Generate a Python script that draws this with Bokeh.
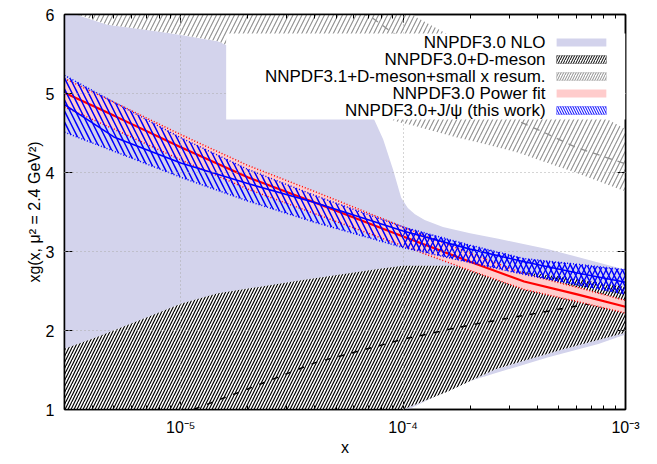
from bokeh.plotting import figure
from bokeh.models import (LogAxis, LinearAxis, Range1d, BoxAnnotation, Label,
                          FixedTicker, CustomJSTickFormatter)
from bokeh.embed import file_html
from bokeh.resources import INLINE

# ---------------- data ----------------
# NNPDF3.0 NLO band
nlo_x  = [3.0e-6, 3.44e-6, 4.69e-6, 7.1e-6, 1.0e-5, 1.47e-5, 2.22e-5, 3.36e-5, 5.1e-5, 6.6e-5,
          7.33e-5, 8.13e-5, 9.0e-5, 9.8e-5, 1.05e-4, 1.13e-4, 1.25e-4, 1.51e-4, 2.0e-4, 2.68e-4,
          4.5e-4, 7.55e-4, 1.0e-3]
nlo_hi = [6.05, 5.99, 5.87, 5.81, 5.74, 5.66, 5.45, 5.25, 5.05, 4.85,
          4.70, 4.42, 4.04, 3.68, 3.55, 3.47, 3.40, 3.31, 3.23, 3.16,
          3.03, 2.86, 2.77]
nlo_lo = [0.30, 0.32, 0.36, 0.42, 0.50, 0.57, 0.64, 0.72, 0.80, 0.86,
          0.89, 0.92, 0.95, 0.97, 1.00, 1.04, 1.10, 1.21, 1.36, 1.47,
          1.66, 1.83, 1.95]

# NNPDF3.0+D-meson band
dm_x   = [3.0e-6, 4.23e-6, 7.1e-6, 1.0e-5, 1.47e-5, 3.36e-5, 7.7e-5, 1.0e-4, 1.6e-4, 2.6e-4,
          5.2e-4, 1.0e-3]
dm_hi  = [1.77, 1.92, 2.17, 2.34, 2.47, 2.63, 2.78, 2.82, 2.82, 2.78, 2.68, 2.55]
dm_lo  = [0.30, 0.34, 0.45, 0.52, 0.60, 0.78, 0.88, 1.00, 1.23, 1.51, 1.76, 1.97]
dmc_x  = [1.0e-5, 2.0e-5, 4.0e-5, 1.0e-4, 2.0e-4, 4.0e-4, 1.0e-3]
dmc_y  = [0.94, 1.26, 1.59, 1.89, 2.07, 2.22, 2.42]

# NNPDF3.1+D-meson+small x resum. band
rs_x   = [3.0e-6, 3.44e-6, 4.69e-6, 9.7e-6, 1.47e-5, 3.36e-5, 5.65e-5, 7.33e-5, 8.55e-5,
          9.8e-5, 1.09e-4, 1.71e-4, 2.18e-4, 3.3e-4, 4.36e-4, 5.96e-4, 1.0e-3]
rs_hi  = [7.5, 7.4, 7.2, 6.9, 6.8, 6.5, 6.3, 6.2, 6.1, 6.05, 6.0, 5.70, 5.55, 5.27, 5.09, 4.89, 4.55]
rs_lo  = [6.1, 6.0, 5.87, 5.75, 5.66, 5.2, 4.9, 4.75, 4.68, 4.63, 4.6, 4.45, 4.38, 4.25, 4.13, 4.0, 3.76]
rs_c   = [7.2, 7.1, 6.9, 6.6, 6.5, 6.3, 6.1, 5.95, 5.81, 5.7, 5.6, 5.2, 5.0, 4.65, 4.5, 4.32, 4.11]

# common x grid of the two fits
fit_x  = [3.0e-6, 5.0e-6, 1.0e-5, 2.0e-5, 4.0e-5, 1.0e-4, 2.0e-4, 3.5e-4, 6.0e-4, 1.0e-3]
# NNPDF3.0 Power fit
pw_c   = [5.01, 4.72, 4.32, 3.94, 3.62, 3.19, 2.87, 2.62, 2.46, 2.30]
pw_hi  = [5.19, 4.89, 4.48, 4.09, 3.76, 3.31, 2.98, 2.72, 2.55, 2.38]
pw_lo  = [4.83, 4.55, 4.16, 3.79, 3.48, 3.07, 2.76, 2.52, 2.37, 2.22]
# NNPDF3.0+J/psi (this work)
jp_c   = [4.86, 4.45, 4.12, 3.86, 3.62, 3.26, 3.03, 2.87, 2.73, 2.61]
jp_hi  = [5.23, 4.89, 4.44, 4.04, 3.71, 3.31, 3.08, 2.91, 2.84, 2.77]
jp_lo  = [4.51, 4.27, 3.94, 3.64, 3.37, 3.05, 2.86, 2.71, 2.58, 2.46]

legend_labels = ["NNPDF3.0 NLO", "NNPDF3.0+D-meson", "NNPDF3.1+D-meson+small x resum.",
                 "NNPDF3.0 Power fit", "NNPDF3.0+J/\u03c8 (this work)"]
x_major = [1e-5, 1e-4, 1e-3]
y_major = [1, 2, 3, 4, 5, 6]

# ---------------- styles ----------------
FONT = "Liberation Sans"
LAV = "#d3d3ec"
PINK = "#ffcccc"
GREY = "#8f8f8f"

p = figure(width=650, height=460, x_axis_type="log",
           x_range=Range1d(3.0e-6, 1.0e-3), y_range=Range1d(1, 6),
           output_backend="svg", toolbar_location=None,
           min_border_left=64, min_border_right=25, min_border_top=14, min_border_bottom=51)
p.background_fill_color = "white"
p.border_fill_color = "white"
p.outline_line_color = "black"
p.outline_line_width = 1.5

minor = [m * 10.0 ** e for e in (-6, -5, -4) for m in range(2, 10)]
xt = FixedTicker(ticks=x_major, minor_ticks=minor)
yt = FixedTicker(ticks=y_major)

# bands
p.varea(x=nlo_x, y1=nlo_lo, y2=nlo_hi, fill_color=LAV, fill_alpha=1.0)
p.varea(x=rs_x, y1=rs_lo, y2=rs_hi, fill_color="white", fill_alpha=1.0,
        hatch_pattern="/", hatch_color=GREY, hatch_weight=1.1, hatch_scale=9)
p.line(rs_x, rs_c, line_color=GREY, line_width=1.3, line_dash="7 6")
p.varea(x=dm_x, y1=dm_lo, y2=dm_hi, fill_color="white", fill_alpha=1.0,
        hatch_pattern="/", hatch_color="black", hatch_weight=1.2, hatch_scale=6)
p.line(dmc_x, dmc_y, line_color="black", line_width=1.5, line_dash="6 8")

p.varea(x=fit_x, y1=pw_lo, y2=pw_hi, fill_color=PINK, fill_alpha=1.0)
p.line(fit_x, pw_hi, line_color="red", line_width=1.5, line_dash="1 2")
p.line(fit_x, pw_lo, line_color="red", line_width=1.5, line_dash="1 2")
p.line(fit_x, pw_c, line_color="red", line_width=2.2)

p.varea(x=fit_x, y1=jp_lo, y2=jp_hi, fill_alpha=0.0,
        hatch_pattern="\\", hatch_color="blue", hatch_weight=1.5, hatch_scale=11)
# cross-hatched part of the J/psi band at larger x
p.varea(x=fit_x[5:], y1=jp_lo[5:], y2=jp_hi[5:], fill_alpha=0.0,
        hatch_pattern="/", hatch_color="blue", hatch_weight=1.3, hatch_scale=11)
p.line(fit_x, jp_hi, line_color="blue", line_width=1.5, line_dash="1 2")
p.line(fit_x, jp_lo, line_color="blue", line_width=1.5, line_dash="1 2")
p.line(fit_x, jp_c, line_color="blue", line_width=1.6)

# axes
sup_js = """
const m = {'-':'\u207b','0':'\u2070','1':'\u00b9','2':'\u00b2','3':'\u00b3','4':'\u2074',
           '5':'\u2075','6':'\u2076','7':'\u2077','8':'\u2078','9':'\u2079'};
const e = Math.round(Math.log10(tick));
return '10' + String(e).split('').map(c => m[c]).join('');
"""

def style_axis(ax, labels=True):
    ax.axis_line_color = "black"
    ax.axis_line_width = 1.5
    ax.major_tick_in = 8
    ax.major_tick_out = 0
    ax.minor_tick_in = 4
    ax.minor_tick_out = 0
    ax.major_tick_line_color = "black"
    ax.minor_tick_line_color = "black"
    ax.major_label_text_font = FONT
    ax.major_label_text_font_size = "16px" if labels else "2px"
    ax.major_label_text_color = "black" if labels else None
    ax.axis_label_text_font = FONT
    ax.axis_label_text_font_style = "normal"
    ax.axis_label_text_font_size = "16px"
    ax.axis_label_text_color = "black"

xa = p.xaxis[0]
xa.ticker = xt
xa.formatter = CustomJSTickFormatter(code=sup_js)
style_axis(xa)
xa.major_label_standoff = 9
xa.axis_label = "x"
xa.axis_label_standoff = 0

ya = p.yaxis[0]
ya.ticker = yt
style_axis(ya)
ya.minor_tick_line_color = None
ya.major_label_standoff = 10
ya.axis_label = "xg(x, \u03bc\u00b2 = 2.4 GeV\u00b2)"
ya.axis_label_standoff = 0

top = LogAxis(ticker=xt)
style_axis(top, labels=False)
top.major_label_standoff = 0
p.add_layout(top, "above")
right = LinearAxis(ticker=yt)
style_axis(right, labels=False)
right.minor_tick_line_color = None
right.major_label_standoff = 0
p.add_layout(right, "right")

# grid
p.xgrid.ticker = FixedTicker(ticks=x_major)
p.ygrid.ticker = FixedTicker(ticks=[2, 3, 4, 5])
for g in (p.xgrid[0], p.ygrid[0]):
    g.grid_line_color = "#aaaaaa"
    g.grid_line_dash = "1 3"
    g.grid_line_width = 1
    g.level = "guide"

# legend (gnuplot style: text right aligned, sample to the right)
p.add_layout(BoxAnnotation(left=1.6e-5, right=1.0e-3, bottom=4.67, top=5.76,
                           fill_color="white", fill_alpha=1.0, line_color=None))
rows = [5.646, 5.43, 5.215, 5.0, 4.785]
samples = [
    dict(fill_color=LAV, fill_alpha=1.0, line_color=None),
    dict(fill_color="white", fill_alpha=1.0, line_color="black", line_width=1.2,
         hatch_pattern="/", hatch_color="black", hatch_scale=5, hatch_weight=1),
    dict(fill_color="white", fill_alpha=1.0, line_color=GREY, line_width=1.2,
         hatch_pattern="/", hatch_color=GREY, hatch_scale=5, hatch_weight=1),
    dict(fill_color=PINK, fill_alpha=1.0, line_color=None),
    dict(fill_color="white", fill_alpha=1.0, line_color="blue", line_width=1.2,
         hatch_pattern="\\", hatch_color="blue", hatch_scale=5, hatch_weight=1),
]
for lab, yy, st in zip(legend_labels, rows, samples):
    p.add_layout(Label(x=4.37e-4, y=yy, text=lab, text_align="right", text_baseline="middle",
                       text_font=FONT, text_font_size="17px", text_color="black"))
    p.add_layout(BoxAnnotation(left=4.9e-4, right=8.2e-4, bottom=yy - 0.05, top=yy + 0.05, **st))

open("out.html", "w").write(file_html(p, INLINE))
